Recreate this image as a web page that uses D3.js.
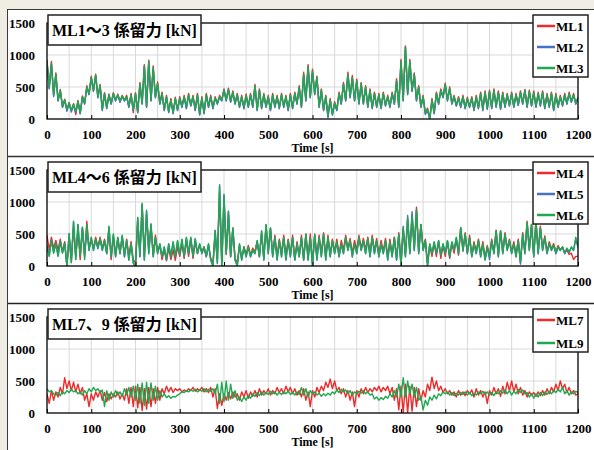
<!DOCTYPE html>
<html>
<head>
<meta charset="utf-8">
<script src="https://cdn.jsdelivr.net/npm/d3@7/dist/d3.min.js"></script>
<style>
  body { margin: 0; background: #f0ede5; }
  svg { display: block; }
  text { font-family: "Liberation Serif", "Noto Sans CJK JP", serif; font-weight: bold; fill: #000; }
</style>
</head>
<body>
<svg id="chart" width="594" height="450"></svg>
<script>
// sampling every 5 s, 0..1200
var step = 5;
var xTicks = [0, 100, 200, 300, 400, 500, 600, 700, 800, 900, 1000, 1100, 1200];
var yTicks = [0, 500, 1000, 1500];

// ML1-3
var ml1 = [920,480,900,370,720,290,460,190,310,140,260,130,240,70,290,90,360,240,520,390,
  670,440,700,340,540,150,410,170,390,240,410,290,390,270,370,290,370,190,400,100,
  410,100,570,240,850,190,920,290,830,340,580,240,420,140,370,110,320,90,340,140,
  350,190,370,170,400,210,370,140,400,70,350,90,400,190,370,170,350,240,370,290,
  470,290,480,270,440,240,400,190,370,170,390,190,400,190,540,140,470,170,400,190,
  370,140,400,190,370,170,400,190,370,140,400,170,420,240,520,190,730,290,850,340,
  780,390,670,190,470,140,370,40,320,70,270,140,420,240,570,290,730,340,680,290,
  620,240,570,240,520,190,470,170,420,190,400,170,420,210,370,190,420,240,630,190,
  930,290,1140,390,930,440,720,290,520,190,370,90,170,0,320,90,420,240,470,340,
  560,290,500,240,370,210,350,190,370,170,340,190,350,140,370,170,420,140,440,160,
  450,170,470,190,440,160,420,190,400,210,420,190,400,220,440,240,460,190,450,210,
  440,190,420,210,440,170,400,190,420,140,400,190,370,210,400,240,420,270,400,240,
  340];
var ml2 = [890,470,860,350,690,280,440,180,290,120,240,110,220,100,270,80,340,230,490,380,
  640,430,680,330,510,130,390,160,370,230,390,280,370,260,350,280,340,180,370,130,
  390,100,540,230,820,180,890,280,790,330,540,230,390,130,340,100,290,80,310,130,
  320,180,340,160,370,200,340,130,370,60,320,80,370,180,340,160,320,230,340,280,
  460,280,470,260,410,230,370,180,340,160,360,180,370,180,510,130,440,160,370,180,
  340,130,370,180,340,160,370,180,340,130,370,160,390,230,490,180,690,280,810,330,
  740,380,640,180,440,130,340,20,290,60,240,130,390,230,540,280,690,330,640,280,
  590,230,540,230,490,180,440,160,390,180,370,160,390,200,340,180,390,230,590,180,
  890,280,1120,380,890,430,690,280,490,180,340,70,130,0,290,80,390,230,440,330,
  530,280,470,230,340,200,320,180,340,160,310,180,320,130,340,160,390,130,410,150,
  420,160,440,180,410,150,390,180,370,200,390,180,370,210,410,230,440,180,420,200,
  410,180,390,200,410,160,370,180,390,130,370,180,340,200,370,230,390,260,370,230,
  320];
var ml3 = [900,500,870,380,700,300,450,200,300,150,250,140,230,120,280,90,350,250,500,400,
  650,450,690,350,520,150,400,180,380,250,400,300,380,280,360,300,350,200,380,150,
  400,120,550,250,830,200,900,300,800,350,550,250,400,150,350,120,300,100,320,150,
  330,200,350,180,380,220,350,150,380,80,330,100,380,200,350,180,330,250,350,300,
  450,300,460,280,420,250,380,200,350,180,370,200,380,200,520,150,450,180,380,200,
  350,150,380,200,350,180,380,200,350,150,380,180,400,250,500,200,700,300,820,350,
  750,400,650,200,450,150,350,50,300,80,250,150,400,250,550,300,700,350,650,300,
  600,250,550,250,500,200,450,180,400,200,380,180,400,220,350,200,400,250,600,200,
  900,300,1130,400,900,450,700,300,500,200,350,100,150,0,300,100,400,250,450,350,
  540,300,480,250,350,220,330,200,350,180,320,200,330,150,350,180,400,150,420,170,
  430,180,450,200,420,170,400,200,380,220,400,200,380,230,420,250,450,200,430,220,
  420,200,400,220,420,180,380,200,400,150,380,200,350,220,380,250,400,280,380,250,
  330];

// ML4-6
var ml4 = [480,250,450,280,400,250,420,220,380,0,450,100,600,150,550,100,580,150,700,280,
  420,280,450,300,450,280,420,200,550,100,450,180,430,200,450,180,420,150,380,100,
  50,700,200,950,150,800,250,620,180,480,230,320,100,250,80,280,100,250,90,300,
  150,350,120,400,150,420,120,380,200,330,220,300,150,320,120,50,500,100,1150,50,
  1050,180,800,150,580,120,50,320,120,300,180,320,170,280,220,380,150,500,120,620,
  250,580,180,480,150,420,200,480,150,420,180,480,100,380,150,480,100,500,150,500,
  50,480,150,480,200,520,150,480,180,420,220,420,180,400,250,480,280,430,200,400,
  250,480,280,430,250,450,200,480,230,430,180,400,230,430,150,420,180,450,120,520,
  50,580,180,720,220,780,280,920,230,650,280,420,50,330,150,350,150,380,120,320,
  150,380,120,350,200,420,170,600,230,520,200,480,170,380,220,420,180,380,120,320,
  150,420,220,560,180,550,220,520,270,420,220,380,180,420,60,520,220,700,270,650,
  170,720,220,620,270,470,220,380,270,350,220,320,250,300,200,250,180,200,100,150,
  150];
var ml5 = [320,160,410,210,360,160,390,210,360,0,510,60,690,110,650,160,610,190,560,240,
  440,240,410,270,420,240,390,190,610,140,490,140,440,190,470,140,390,90,340,40,
  0,760,140,960,90,870,190,660,140,440,190,340,140,290,90,340,140,370,140,390,
  170,410,140,440,190,440,140,420,190,340,190,290,140,340,90,0,560,40,1270,0,
  1120,190,860,140,590,90,0,340,90,290,140,290,140,240,190,390,140,540,90,640,
  190,590,140,440,90,390,140,440,90,390,140,440,90,340,140,440,90,490,90,440,
  0,490,90,440,140,490,90,440,140,390,190,370,140,340,190,440,240,390,140,340,
  190,440,240,390,190,420,140,440,190,390,140,340,190,390,90,370,140,440,90,490,
  0,620,140,790,190,850,240,860,190,640,240,390,0,340,190,370,190,390,170,340,
  190,390,140,370,240,440,190,590,240,490,190,440,140,340,190,390,140,340,90,290,
  100,390,190,540,140,540,190,490,240,390,190,340,140,390,30,490,190,670,240,640,
  140,690,190,590,240,440,190,340,240,320,190,290,240,290,190,270,210,290,240,420,
  290];
var ml6 = [300,150,400,200,350,150,380,200,350,0,500,50,700,100,650,150,600,100,650,250,
  450,250,420,280,430,250,400,200,620,150,500,150,450,200,480,150,400,100,350,50,
  0,750,150,980,100,850,200,650,150,450,200,350,150,300,100,350,150,380,150,400,
  180,420,150,450,200,450,150,430,200,350,200,300,150,350,100,0,550,50,1250,0,
  1100,200,850,150,600,100,0,350,100,300,150,300,150,250,200,400,150,550,100,650,
  200,600,150,450,100,400,150,450,100,400,150,450,100,350,150,450,100,500,100,450,
  0,500,100,450,150,500,100,450,150,400,200,380,150,350,200,450,250,400,150,350,
  200,450,250,400,200,430,150,450,200,400,150,350,200,400,100,380,150,450,100,500,
  0,600,150,750,200,800,250,880,200,650,250,400,0,350,200,380,200,400,180,350,
  200,400,150,380,250,450,200,600,250,500,200,450,150,350,200,400,150,350,100,300,
  150,400,200,550,150,550,200,500,250,400,200,350,150,400,50,500,200,680,250,650,
  150,700,200,600,250,450,200,350,250,330,200,300,250,300,200,280,220,300,250,450,
  300];

// ML7, ML9
var ml7 = [300,150,350,200,330,250,400,300,550,380,500,350,480,330,450,300,400,200,300,100,
  300,200,330,250,350,200,320,180,300,220,300,250,330,220,300,200,380,150,400,100,
  420,80,400,40,380,60,400,100,380,150,400,200,380,300,420,330,400,320,380,350,
  380,330,360,340,380,350,400,340,380,350,400,330,380,320,400,250,380,70,300,120,
  300,200,320,220,330,250,300,200,330,250,350,230,330,260,350,250,380,280,350,300,
  380,280,350,300,400,320,380,300,420,330,400,300,380,280,350,250,380,200,330,100,
  350,250,400,320,420,350,480,400,530,380,500,350,400,300,380,250,350,200,330,100,
  350,250,380,300,400,320,380,330,400,350,420,330,400,350,420,300,400,200,380,50,
  420,0,450,0,420,30,400,100,380,200,350,250,450,350,560,380,500,350,420,320,
  380,300,350,280,330,250,350,280,330,270,350,300,360,250,380,280,350,250,330,150,
  350,280,400,300,380,260,420,300,480,350,500,330,450,300,400,280,350,250,330,280,
  320,260,330,270,350,280,380,300,400,330,450,350,500,380,450,320,400,300,350,280,
  300];
var ml9 = [380,330,350,300,280,320,270,330,300,350,320,370,330,350,300,330,280,350,300,380,
  330,400,350,380,320,360,100,350,200,330,250,350,280,330,260,380,280,400,250,420,
  200,450,150,470,120,480,150,470,200,420,200,350,250,300,240,270,230,260,250,280,
  300,330,320,350,330,360,340,370,330,360,340,380,330,370,340,380,300,450,150,480,
  180,500,200,450,230,350,200,250,180,250,200,280,230,300,260,320,270,330,280,320,
  290,340,300,330,280,320,290,330,300,340,290,320,280,330,290,400,280,380,250,350,
  300,330,280,310,260,300,270,310,280,330,300,360,320,370,330,360,300,350,280,330,
  300,340,310,350,300,330,280,300,220,250,200,240,210,260,230,300,250,350,250,450,
  250,550,250,500,300,450,250,400,200,250,50,200,120,250,200,280,220,300,270,330,
  300,330,280,320,270,310,280,320,290,330,280,320,270,310,280,330,300,340,290,330,
  280,320,270,330,300,350,310,360,300,350,280,340,300,370,320,360,300,320,250,300,
  230,300,250,320,270,330,290,340,300,350,320,370,330,400,300,350,280,330,300,340,
  320];

var panels = [
  { title: "ML1～3 係留力 [kN]", top: 23, names: ["ML1", "ML2", "ML3"], series: [ml1, ml2, ml3], colors: ["#ee2a2a", "#4472c4", "#1fa84f"], legendGap: 21 },
  { title: "ML4～6 係留力 [kN]", top: 170, names: ["ML4", "ML5", "ML6"], series: [ml4, ml5, ml6], colors: ["#ee2a2a", "#4472c4", "#1fa84f"], legendGap: 21 },
  { title: "ML7、9 係留力 [kN]", top: 317, names: ["ML7", "ML9"], series: [ml7, ml9], colors: ["#ee2a2a", "#1fa84f"], legendGap: 23 }
];

var svg = d3.select("#chart");
var left = 47, right = 578, plotH = 96;

// page sheet
svg.append("rect").attr("x", 7.5).attr("y", 9.5).attr("width", 600).attr("height", 450)
  .attr("fill", "#fff").attr("stroke", "#3a3a3a").attr("stroke-width", 1);
svg.append("line").attr("x1", 8).attr("x2", 594).attr("y1", 156.5).attr("y2", 156.5)
  .attr("stroke", "#333").attr("stroke-width", 1.5);
svg.append("line").attr("x1", 8).attr("x2", 594).attr("y1", 303.5).attr("y2", 303.5)
  .attr("stroke", "#222").attr("stroke-width", 1.5);

var x = d3.scaleLinear().domain([0, 1200]).range([left, right]);

panels.forEach(function(p, pi) {
  var y = d3.scaleLinear().domain([0, 1500]).range([p.top + plotH, p.top]);
  var g = svg.append("g");

  // grid
  g.append("g").selectAll("line").data(d3.range(50, 1200, 50)).join("line")
    .attr("x1", d => x(d)).attr("x2", d => x(d))
    .attr("y1", p.top).attr("y2", p.top + plotH)
    .attr("stroke", "#d9d9d9").attr("stroke-width", 1);
  g.append("g").selectAll("line").data([500, 1000]).join("line")
    .attr("x1", left).attr("x2", right)
    .attr("y1", d => y(d)).attr("y2", d => y(d))
    .attr("stroke", "#d9d9d9").attr("stroke-width", 1);

  // series
  var clipId = "clip" + pi;
  svg.append("clipPath").attr("id", clipId).append("rect")
    .attr("x", left).attr("y", p.top - 2).attr("width", right - left).attr("height", plotH + 2);
  var line = d3.line().x((d, i) => x(i * step)).y(d => y(d));
  p.series.forEach(function(s, si) {
    g.append("path").datum(s)
      .attr("clip-path", "url(#" + clipId + ")")
      .attr("d", line)
      .attr("fill", "none")
      .attr("stroke", p.colors[si])
      .attr("stroke-width", 1.4)
      .attr("stroke-linejoin", "round");
  });

  // frame
  g.append("rect").attr("x", left).attr("y", p.top).attr("width", right - left).attr("height", plotH)
    .attr("fill", "none").attr("stroke", "#000").attr("stroke-width", 1.3);

  // axes
  var xa = g.append("g").attr("transform", "translate(0," + (p.top + plotH) + ")")
    .call(d3.axisBottom(x).tickValues(xTicks).tickFormat(d3.format("d"))
      .tickSizeInner(-4).tickSizeOuter(0).tickPadding(11));
  var ya = g.append("g").attr("transform", "translate(" + left + ",0)")
    .call(d3.axisLeft(y).tickValues(yTicks).tickFormat(d3.format("d"))
      .tickSizeInner(0).tickSizeOuter(0).tickPadding(12));
  [xa, ya].forEach(function(a) {
    a.select(".domain").remove();
    a.selectAll("line").attr("stroke", "#000");
    a.selectAll("text").attr("font-size", 13).attr("font-family", "Liberation Serif").attr("font-weight", "bold");
  });

  g.append("text").attr("x", (left + right) / 2).attr("y", p.top + plotH + 33)
    .attr("text-anchor", "middle").attr("font-size", 12).text("Time [s]");

  // title box
  g.append("rect").attr("x", 48).attr("y", p.top - 8).attr("width", 153).attr("height", 30)
    .attr("fill", "#fff").attr("stroke", "#222").attr("stroke-width", 1.5);
  g.append("text").attr("x", 52).attr("y", p.top + 13).attr("font-size", 16).text(p.title);

  // legend
  var n = p.names.length;
  var lg = g.append("g");
  lg.append("rect").attr("x", 533).attr("y", p.top - 8).attr("width", 55)
    .attr("height", (n - 1) * p.legendGap + 20)
    .attr("fill", "#fff").attr("stroke", "#222").attr("stroke-width", 1.5);
  p.names.forEach(function(nm, i) {
    var yy = p.top + 3 + i * p.legendGap;
    lg.append("line").attr("x1", 537).attr("x2", 555).attr("y1", yy).attr("y2", yy)
      .attr("stroke", p.colors[i]).attr("stroke-width", 2.5);
    lg.append("text").attr("x", 556).attr("y", yy + 4.5).attr("font-size", 13).text(nm);
  });
});
</script>
</body>
</html>
